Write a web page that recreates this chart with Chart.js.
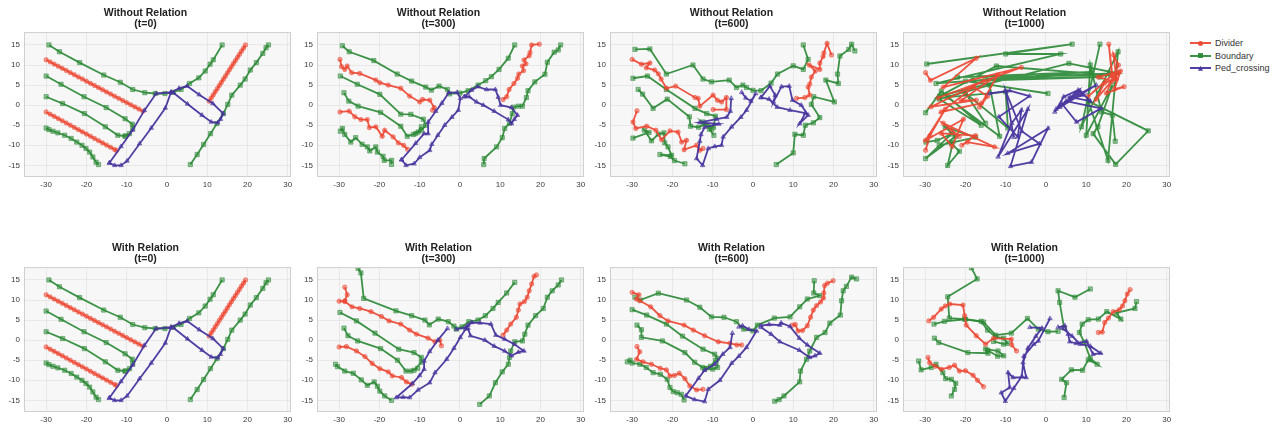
<!DOCTYPE html>
<html>
<head>
<meta charset="utf-8">
<script src="https://cdn.jsdelivr.net/npm/chart.js@4.4.1/dist/chart.umd.min.js"></script>
<style>
    body { margin: 0; background: #fff; width: 1281px; height: 428px; position: relative; overflow: hidden; font-family: "Liberation Sans", Arial, sans-serif; }
    canvas.panel { position: absolute; }
    #legend { position: absolute; left: 1190px; top: 37px; font-size: 9px; color: #333; }
    #legend .item { height: 12.5px; line-height: 12.5px; display: flex; align-items: center; white-space: nowrap; }
    #legend .key { position: relative; width: 21px; height: 12px; margin-right: 4px; }
    #legend .key .bar { position: absolute; left: 0; right: 0; top: 5px; height: 2px; }
    #legend .key .mark { position: absolute; left: 8px; top: 3.5px; width: 5px; height: 5px; }
</style>
</head>
<body>
<div id="legend"></div>
<script>
// axis ticks
const xTicks = [-30, -20, -10, 0, 10, 20, 30];
const yTicks = [-15, -10, -5, 0, 5, 10, 15];
const classNames = ['Divider', 'Boundary', 'Ped_crossing'];

// t=0 (same map for both rows)
const t0Divider = [
    [[-30, 11.3], [-29, 10.77], [-28, 10.23], [-27, 9.7], [-26, 9.17], [-25, 8.63], [-24, 8.1], [-23, 7.57], [-22, 7.03], [-21, 6.5], [-20, 5.97], [-19, 5.43], [-18, 4.9], [-17, 4.37], [-16, 3.83], [-15, 3.3], [-14, 2.77], [-13, 2.23], [-12, 1.7], [-11, 1.17], [-10, 0.63], [-9, 0.1], [-8, -0.43], [-7, -0.97], [-6, -1.5]],
    [[-30, -1.7], [-29, -2.25], [-28, -2.8], [-27, -3.35], [-26, -3.9], [-25, -4.45], [-24, -5.0], [-23, -5.55], [-22, -6.1], [-21, -6.65], [-20, -7.2], [-19, -7.75], [-18, -8.3], [-17, -8.85], [-16, -9.4], [-15, -9.95], [-14, -10.5], [-13, -11.05], [-12.5, -11.3]],
    [[10.5, 1.0], [11, 1.8], [11.5, 2.55], [12, 3.35], [12.5, 4.1], [13, 4.9], [13.5, 5.65], [14, 6.45], [14.5, 7.2], [15, 8.0], [15.5, 8.8], [16, 9.55], [16.5, 10.35], [17, 11.1], [17.5, 11.9], [18, 12.65], [18.5, 13.45], [19, 14.2], [19.5, 15]]
];
const t0Boundary = [
    [[-29.3, 15], [-26.7, 13.3], [-21.7, 10.6], [-15.7, 7.5], [-11.6, 5.7], [-8.5, 3.9], [-5.5, 3.1], [-2.9, 2.9], [-0.5, 2.9], [1.5, 3.2], [3.5, 3.9], [5.6, 5.4], [7.9, 6.8], [9.5, 8.5], [10.7, 10.2], [11.5, 11.3], [13.7, 15]],
    [[-30, 7.25], [-26.3, 5.2], [-20.6, 2.1], [-15.1, -0.6], [-10.4, -3.4], [-8.6, -4.75], [-8.5, -5.8], [-9.3, -7.1], [-10.4, -7.7]],
    [[-30, 2.1], [-25.9, 0.4], [-20.5, -2.1], [-15.3, -5.4], [-12.2, -7.5], [-10.4, -7.7]],
    [[-30, -5.7], [-29.3, -6.1], [-28.3, -6.5], [-27.1, -6.9], [-25.4, -7.5], [-23.8, -8.3], [-22.4, -9.2], [-21.1, -10], [-20.1, -10.8], [-19.2, -11.7], [-18.4, -12.9], [-17.6, -14.2], [-17, -14.8]],
    [[5.8, -14.8], [7.5, -12.3], [9.1, -9.8], [10.8, -7.1], [12.4, -4.6], [14, -2.1], [15.1, 0.2], [16.1, 2.5], [18.2, 5], [19.4, 6.5], [20.7, 8.75], [22.2, 10.6], [23.8, 12.9], [24.6, 14.3], [25.2, 15]]
];
const t0Ped = [
    [[-14.3, -14.4], [-13, -15], [-11.4, -15], [-9.9, -13.9], [-6.8, -9.6], [-3.9, -5.7], [-0.4, -0.7], [1, 3.2], [-2.7, 2.9], [-5.6, -1.3], [-8.5, -6.2], [-11.4, -10.3], [-14.3, -14.4]],
    [[1, 3.2], [3, 4.2], [5, 4.75], [8, 2.6], [11.4, 0.4], [14, -2.1], [13.3, -3.5], [12.6, -4.4], [11, -4.2], [8.7, -2.5], [5.1, 0.3], [1.6, 3.1]]
];

// Without Relation, t=300
const woT300Divider = [
    [[-29.8, 11.4], [-29.4, 9.6], [-28.6, 8.9], [-28, 9.75], [-26.9, 8.1], [-24.9, 7.9], [-20.9, 6.25], [-19.9, 5.6], [-17.8, 5], [-14.7, 4.2], [-12.5, 2.25], [-10, 0.8], [-9.3, 1.4], [-7.5, 1.25], [-6.4, -0.6], [-6.8, -1.25]],
    [[-29.8, -1.7], [-27.5, -1.5], [-26.1, -2.9], [-24.6, -3.6], [-23, -3.6], [-22.5, -5.6], [-20.9, -5.4], [-19.3, -7.75], [-18.7, -6.25], [-16.6, -7.9], [-15.3, -9.4], [-14, -10], [-13, -11]],
    [[10.7, 1.4], [11.6, 2.1], [12.2, 3.9], [13.4, 5.4], [14.3, 6.7], [14.6, 7.75], [15.8, 8.6], [15.5, 9.75], [16.4, 10.3], [15.9, 11.25], [17.2, 12.3], [17.4, 13.1], [17.8, 15], [19.7, 15.2]]
];
const woT300Boundary = [
    [[-29.2, 14.8], [-27.5, 13.3], [-21.4, 11.1], [-15.6, 7.75], [-12, 6], [-8.5, 4.5], [-7.1, 3.75], [-5.2, 4.75], [-3.1, 3.9], [-2.6, 2.8], [0, 3], [2, 3.6], [4.5, 5], [6.4, 6.1], [7.8, 7.1], [9.7, 8.9], [12, 11.7], [13.6, 15]],
    [[-29.7, 7.25], [-25.5, 5.2], [-19.9, 2.7], [-14.7, -2.25], [-12.2, -2.3], [-9.1, -3.5], [-8.5, -5], [-9.6, -6.3], [-11, -7.1]],
    [[-28.8, 3.1], [-27.6, 1], [-25.3, -0.25], [-19.7, -1.8], [-14.7, -5.25], [-13.1, -7.75], [-11.6, -7.3], [-10.4, -6.7], [-9.6, -5.4]],
    [[-29.7, -6.5], [-29.2, -5.8], [-28.6, -7.3], [-27.1, -9.2], [-25.9, -8.1], [-24.3, -9.75], [-23, -10.4], [-22.4, -11.4], [-20.9, -10.4], [-20.5, -11.7], [-19.1, -12.75], [-18.8, -13.75], [-17, -13.75], [-17, -14.75]],
    [[5.9, -14.8], [6, -13.3], [9.1, -10.4], [10.5, -8.1], [11.1, -5.8], [12.3, -4.5], [13, -2.1], [13.3, -0.5], [14.5, -0.25], [15.5, -0.25], [16.5, 1.9], [16.9, 3.6], [18.6, 5.8], [21.1, 7.7], [21.7, 10.7], [23.4, 13.2], [24.4, 13.75], [25, 15]]
];
const woT300Ped = [
    [[-14.5, -13.6], [-13.4, -15], [-11.4, -14.6], [-10, -13], [-7.5, -11.25], [-7, -9.75], [-5.5, -7.5], [-3.8, -5], [-2, -3], [-0.4, -1.25], [0.1, 1.7], [-0.7, 3.2], [-2.8, 3.1], [-4.5, 0.5], [-6, -1.5], [-7.9, -4.2], [-7.9, -7.1], [-8.9, -7.1], [-11, -9.5], [-14.5, -13.6]],
    [[1.1, 2.1], [2.9, 3.75], [4.4, 4.6], [6.6, 3.9], [8.8, 3.9], [9.5, 2], [10.1, 0], [12.8, -0.6], [14.3, -2.5], [13.5, -3.5], [12.8, -4.6], [12, -3.6], [8.5, -1.5], [5.8, 0], [4.1, 0.8], [2.3, 2.1], [1.1, 2.1]]
];

// Without Relation, t=600
const woT600Divider = [
    [[-30, 11.4], [-27.7, 10.2], [-25.6, 10.5], [-26.5, 9.3], [-24.4, 8.75], [-23.5, 7.8], [-22.8, 6.5], [-21.5, 4.2], [-19.2, 4.75], [-14.4, 1.9], [-13.6, 1.7], [-13.2, -0.25], [-9.9, 2.5], [-8.8, 1.2], [-7.8, 0.8], [-6.6, 1.9], [-6.6, -1.1], [-9.9, -1.1]],
    [[-28.8, -1.4], [-29.8, -4.2], [-29.1, -5.8], [-26.4, -5.25], [-24.1, -6.25], [-22.7, -8.6], [-20.6, -6.4], [-18.6, -6.7], [-17.7, -9.2], [-16.5, -8.75], [-17.1, -11.1], [-14, -10], [-13.2, -11.25], [-12.4, -10.8]],
    [[10.8, 1.7], [12.9, 1.9], [14.1, 2.5], [13.7, 4.5], [14.1, 5.25], [14.5, 7], [15.5, 8.5], [14, 10], [16.6, 8.9], [16.6, 10.5], [17.4, 12.1], [17.6, 13], [18.4, 15.4], [19.5, 12.5]]
];
const woT600Boundary = [
    [[-29.3, 13.9], [-25.6, 14], [-21.5, 7.75], [-14.9, 10], [-12.4, 6.5], [-10.3, 5.8], [-5.9, 6.25], [-4.1, 4.4], [-2.5, 5], [-1.6, 4.4], [0, 3.7], [2, 3.6], [4.5, 5.5], [6.1, 7.75], [10, 9.8], [12.5, 8.9], [13.7, 11.4], [12.5, 15]],
    [[-29.8, 6.7], [-26.2, 7.25], [-21.5, 3.9], [-14.4, -0.8], [-11.5, -2.1], [-9.3, -2.75], [-9.8, -5.5], [-12.4, -4.2], [-10.2, -6]],
    [[-28.5, 3.9], [-27.4, 2.75], [-24.8, -0.8], [-21.3, 1.5], [-15.8, -2.9], [-15.5, -5.25], [-13.5, -5.5], [-12, -4.75], [-10.8, -6], [-9.7, -7.5]],
    [[-29.8, -8.2], [-25.8, -6.8], [-27, -6.2], [-25.2, -8.9], [-23.5, -7.2], [-22.1, -6.9], [-21.9, -9.4], [-21.1, -10.4], [-20.2, -12.5], [-23.1, -12.3], [-20.5, -12.8], [-19.5, -13.8], [-16.9, -14.6]],
    [[5.8, -14.8], [10, -11.9], [10.4, -7.25], [12.5, -7.5], [13, -5], [15, -4.4], [16.6, -3.1], [14.5, 0.2], [15.1, 2.1], [20.2, 0.8], [18.1, 6.25], [21.2, 5.4], [21, 7.75], [21.6, 12.25], [23.8, 13.9], [24.5, 15.2], [25.3, 13.5]]
];
const woT600Ped = [
    [[-5.4, 1.7], [-5.6, -1.5], [-6.5, -3], [-9, -3.5], [-13.2, -4.3], [-8.5, -4.7], [-12, -5.5], [-12.9, -7.3], [-13.2, -9], [-14, -13.3], [-12.5, -15], [-11.1, -10.8], [-9.5, -10.3], [-7.8, -10], [-7.4, -7.9], [-5.3, -5.4], [-3, -3], [-1.6, -1.25], [0.7, 2.9], [-0.5, 1], [-1.8, 1.8], [-2.8, 3.2]],
    [[2, 1.9], [4.2, 4.75], [5.5, 2.5], [5.1, 0.8], [7.1, 4.6], [9, 4.75], [9.8, 1.25], [12, 0], [13.7, -2.5], [11.6, -4.6], [13, -2], [9.2, -1.25], [6, -0.5], [4, 1.5], [2, 1.9]]
];

// Without Relation, t=1000
const woT1000Divider = [
    [[-29.9, 8.1], [-28.7, 6.2], [-17.3, 11.7], [-25.5, 4.5], [-6.1, 9.4], [-26.8, 1.8], [-15.5, 6], [-28.5, -0.4], [-17.3, 1.25], [-21, 1.2], [-12, 7.5], [-16.5, -0.5], [-14.5, 2.2], [-18, 4.5], [-26, -1.7], [-16, 0.5]],
    [[-29.9, -11.25], [-28.8, -7.6], [-25, -1], [-29.9, -8.75], [-20.5, -3.5], [-23.3, -10.3], [-26, -7], [-17.5, -7.6], [-20.9, -10], [-19.5, -9.2], [-12.8, -10.4], [-25.5, -4.5], [-21.5, -7.8], [-23.5, -6.2]],
    [[10.4, 2.1], [16.5, 7.5], [15.6, 15.2], [16.5, 6], [13, 7], [18.5, 8.5], [17, 4], [19.4, 4.6], [15, 3], [18, 10], [16.8, 12.5], [17.5, 6.5], [14.5, 5.5], [12.5, 1.5], [18, 8]]
];
const woT1000Boundary = [
    [[-29.6, 10.25], [6.5, 15.2], [-10, 12.75], [3.65, 12.75], [-27.3, 5.4], [11.3, 8.3], [-22, 7], [16, 7.5], [-12.3, 9.75], [-26.4, 2.25], [5.7, 10.4], [17.5, 8], [-15, 6.5], [13.5, 7], [-20, 6], [0.5, 2.9]],
    [[-29.9, -1.9], [-26, 3.5], [-16.1, -5], [-26.5, 1.5], [-14, 5], [-11.5, -7.75], [-24.5, 2], [-10, 3.3], [-9.45, -5.7], [-20, 3], [-15, -4.5]],
    [[-29.8, -9.2], [-27, -8.8], [-23.5, -7.2], [-29.9, -13.3], [-22.5, -7.8], [-25, -5.5], [-17.5, -8], [-26.5, -10], [-23.1, -9.2], [-24.4, -15], [-21.5, -11.5], [-23.5, -9.5]],
    [[13.4, 15.2], [8.8, -5.4], [17.9, 13.3], [15.4, -13.75], [10.5, 1], [25.4, -6.4], [17.3, -14.75], [11.7, -7.1], [12.9, -5.4], [16.5, 5], [10, -7.5], [11, 10], [13.8, -1.7], [16.5, -2.5], [17.2, -9]]
];
const woT1000Ped = [
    [[-14, 2.9], [-9, 3.6], [-4.1, 2.25], [-11.7, -2.9], [-7, -7.9], [-6.1, -1.25], [-8.5, -4.5], [-11.9, -12.9], [-4.5, -1], [-8.8, -15.25], [-3.6, -14.2], [0.5, -5.8], [-9.5, -12], [-1.6, -9.6], [-6, -6.5], [-10, 3.5], [-8, -8]],
    [[2.2, -1.7], [4.4, 2.1], [8, 3.75], [3.5, -0.5], [12.5, 5], [5, 1], [13.7, -0.8], [7.6, -4.2], [4, 0.3], [9, 2.5], [6, 2], [11, 1], [8.5, 3.5], [2.5, -1]]
];

// With Relation, t=300
const wT300Divider = [
    [[-28.6, 13.2], [-28, 11.3], [-28.6, 9.8], [-30, 9.7], [-28.6, 9.6], [-26.8, 8.3], [-24.9, 7.9], [-22.1, 7.1], [-19.5, 5.9], [-17.6, 4.8], [-14.7, 4], [-12.5, 2.5], [-10.8, 1.5], [-7.9, 0.5], [-6.2, -0.4], [-5, 0], [-4.6, -1.4]],
    [[-30, -1.7], [-28.2, -1.6], [-25.7, -2.7], [-23.6, -4.1], [-21.8, -5.8], [-19.9, -7.1], [-17.8, -7.9], [-16.8, -8.9], [-14.5, -9.3], [-13.3, -10.4], [-12, -11]],
    [[10.7, 1.25], [11.6, 2.5], [12.6, 4], [14, 5.7], [14.5, 7.5], [14.9, 9], [16, 9.6], [16.7, 10.7], [17.2, 12.3], [17.8, 14], [18.4, 15.9], [19, 16.25]]
];
const wT300Boundary = [
    [[-25.3, 17.9], [-24.6, 16.75], [-23.9, 10.4], [-15.9, 7.3], [-12, 6.1], [-8.7, 5], [-7.6, 3.8], [-5.4, 5.25], [-2.9, 4.6], [-1.5, 3.5], [-0.9, 2.75], [0.5, 3.3], [2.2, 4.6], [4.5, 5], [6.3, 6.1], [8.2, 7.9], [9.5, 9.4], [11.6, 11.75], [13.6, 14.4]],
    [[-29.8, 6.9], [-25.7, 4.8], [-21.1, 1.75], [-15.2, -2.25], [-11.4, -3.1], [-9.6, -4.3], [-9.6, -5.5], [-11.4, -7.5]],
    [[-28.8, 3], [-27.8, 1.1], [-25.4, -0.2], [-19.7, -2.1], [-15.5, -5], [-13.4, -7.7], [-12.2, -7.7], [-10.5, -7]],
    [[-30.9, -6], [-30.4, -6.6], [-28.6, -7.7], [-26.5, -8.25], [-24.5, -9.9], [-23, -11.25], [-21.3, -10.4], [-20.5, -11.5], [-19.9, -12.7], [-18.7, -13.9], [-17, -15]],
    [[4.9, -16], [7.3, -13.9], [8.8, -10.6], [10.5, -7.9], [12, -6], [12.3, -4.3], [12.6, -2.7], [13.6, -0.4], [15.5, -0.2], [16.1, 1.5], [16.9, 3.75], [18.8, 6.1], [20.7, 7.9], [21.7, 10.7], [22.9, 12.3], [24.4, 13.75], [25.2, 15]]
];
const wT300Ped = [
    [[-3.1, 2.9], [-5.5, 0], [-7.5, -2.8], [-8.9, -5.2], [-8.9, -7.25], [-10, -8.8], [-11.8, -10.8], [-15.8, -14.3], [-14.1, -14.2], [-12.5, -14.3], [-10.4, -12.4], [-7.5, -10.6], [-6.2, -8.1], [-3.3, -4.75], [-1.5, -2], [0.1, 0.7], [1.4, 2.75], [2, 3.75]],
    [[-0.9, 2.75], [1.5, 3.2], [2.9, 4.4], [5, 4.3], [7.7, 4], [8.9, 1.25], [11.1, 0.25], [13.5, -1], [15.9, -2.7], [14.5, -3], [12.8, -3.9], [11.1, -2.7], [8.5, -1.5], [6.2, 0], [2.6, 1.1], [2, 3]]
];

// With Relation, t=600
const wT600Divider = [
    [[-30, 11.9], [-28.3, 11.3], [-28.9, 10.2], [-28.1, 9.8], [-25.4, 8.3], [-23.1, 6.1], [-21.1, 4.8], [-17.1, 3.75], [-14.8, 2.5], [-12, 1.1], [-8.6, -0.4], [-5.7, -0.8], [-4, -1.2], [-2.8, -1.2]],
    [[-28.8, -1.6], [-28.1, -2.9], [-28.9, -4.75], [-27.3, -5.4], [-25.2, -6], [-23, -7], [-21.5, -7.4], [-20.6, -8.9], [-19.5, -8.8], [-18.3, -8.25], [-16.9, -9.6], [-15.7, -11.4], [-14, -12.4], [-12.4, -12.25]],
    [[9.8, 3.75], [10.5, 3.9], [11.2, 2.3], [12.3, 2.4], [13.5, 3.6], [14.3, 5.7], [15, 7.5], [15.8, 8.6], [16.8, 9.5], [17.5, 10.5], [17.6, 11.75], [17.8, 13.6], [18.5, 14.2], [19.9, 14.8]]
];
const wT600Boundary = [
    [[-29.3, 10.7], [-28, 10], [-23.5, 11.7], [-16.5, 10], [-13.2, 8.2], [-10.3, 5.8], [-7.2, 5.7], [-4.1, 4.6], [-2.3, 2.75], [0, 2.3], [1.1, 3.75], [5.3, 5.5], [9.2, 5.8], [11.6, 8.3], [13.5, 10.25], [16.6, 11.1], [15.1, 11.75], [15.2, 14.8]],
    [[-30, 7.6], [-26.4, 6.25], [-21.5, 4], [-17.5, 1], [-12.4, -2.25], [-9.5, -3.5], [-8.8, -4.5], [-8.8, -6.8], [-10, -7.2], [-12, -7.25]],
    [[-28.8, 3.75], [-27.7, 2.6], [-27.7, 0.7], [-22.5, -0.2], [-16.9, -3.1], [-14.5, -5.5], [-12.5, -6.8], [-10.5, -6.5], [-9.3, -5]],
    [[-31.2, -5.4], [-30.5, -5], [-30, -5.7], [-28.1, -6], [-26.5, -6.8], [-24.8, -8.1], [-23, -8.5], [-21.3, -9.75], [-20.6, -11.8], [-19.8, -12.8], [-18.8, -13.1], [-17.8, -13.5], [-17.1, -14.9]],
    [[5.4, -15.2], [6.5, -14.8], [7.7, -13.9], [11.6, -10.4], [11.8, -7.7], [13.3, -4.75], [14.1, -2.7], [15.8, 0.7], [17.9, 1.9], [19.1, 4.25], [21.7, 6.25], [22, 9.8], [22.4, 12.3], [23.2, 13.4], [24.5, 15.7], [25.7, 15.25]]
];
const wT600Ped = [
    [[-5.1, 1.75], [-5.7, -1.8], [-7.5, -3.5], [-9.5, -6], [-12, -7.5], [-13.5, -9.5], [-16.7, -13.9], [-14.5, -14.8], [-12, -15.3], [-11.1, -12.25], [-8.2, -10], [-5.3, -5.75], [-3.5, -4], [-1.6, -1.8], [0.9, 2.3], [-1, 2.7], [-2.6, 3.6], [-3.5, 3.3]],
    [[2, 3.6], [4, 3.9], [6.7, 3.75], [7, 4.3], [9.2, 3.4], [11.5, 0.5], [13.5, -1.2], [16.6, -3.25], [15.4, -3.9], [14.1, -4.3], [11.5, -2.5], [6.7, -0.4], [4.5, 1.5], [2, 3.2]]
];

// With Relation, t=1000
const wT1000Divider = [
    [[-29.1, 4.8], [-27.9, 5.7], [-26, 7.75], [-25, 8.5], [-23.9, 9], [-20.6, 8.75], [-20.2, 6.1], [-19.8, 3.75], [-17.3, 1.1], [-15, -1], [-13, 0.5], [-8.6, 0.25], [-8.5, -1.2], [-7.3, -2.7]],
    [[-29.3, -4.3], [-28.9, -5.6], [-27.5, -6.5], [-26, -7.25], [-24, -6.8], [-22.7, -6.25], [-21.5, -7.7], [-20, -7.6], [-18.1, -8.75], [-17, -10], [-15.5, -11.6]],
    [[13, 1.9], [14, 2], [14.6, 4.4], [15.5, 5.5], [16.7, 7.1], [18.2, 7.6], [19, 8.5], [19.6, 9.8], [20.2, 11.5], [20.9, 12.6]]
];
const wT1000Boundary = [
    [[-18.5, 18], [-17.1, 15.25], [-24.4, 10.8], [-24, 5.5], [-20.2, 5.25], [-15.5, 4.5], [-12.5, 1.25], [-8.6, 1.75], [-4.6, 5.4], [-1.9, 2.75], [0.5, 2.1], [3, 2.2]],
    [[-27.8, 4], [-25.2, 4.7], [-20, 5.2], [-16.1, 4.7], [-14.5, 2.5], [-12.5, 0.8], [-10.5, 0.5], [-9.5, -0.8], [-10.5, -1], [-13, -0.3]],
    [[-27.7, 0.5], [-26.6, -0.6], [-19.4, -3.1], [-14.4, -3.25], [-15, -2.2], [-11.9, -2.7], [-10.5, -3.9], [-12, -4], [-14.5, -2.5]],
    [[-31.6, -5.2], [-31, -7.4], [-28.5, -6.8], [-27.3, -6], [-25.6, -8.1], [-24.9, -9.6], [-23.5, -9.75], [-22.4, -10.75], [-22.7, -12.25], [-23.5, -13.9]],
    [[4.5, -14.3], [5.1, -10.6], [3.9, -9.75], [6.3, -7.4], [9.1, -7.5], [10.5, -4.9], [12.7, -6], [11, -4.5], [9.5, -0.5], [8.3, 1.9], [9, 4], [10.5, 5.1], [13, 5.25], [15.1, 7.1], [18.6, 5.25], [17.5, 6.8], [22.1, 7.9], [22.5, 9.6]],
    [[11, 12.75], [7.2, 10.7], [3, 12.3], [3.4, 9.4], [4.5, 3]]
];
const wT1000Ped = [
    [[-4, 3.2], [-1, 3], [-2.5, 1], [-4.5, -2], [-5.7, -5.6], [-4.9, -9.3], [-8.2, -9.3], [-9.4, -8.1], [-9, -11.8], [-11.1, -13.1], [-10.1, -15.2], [-8, -12], [-6, -9], [-5.5, -4], [-3, -1], [-1.9, -0.2], [1, 5.4]],
    [[3, 3.2], [4.7, 3.6], [5.5, 1.5], [5.9, -0.4], [7.5, -0.8], [10.1, -0.3], [11.7, -3.5], [13.6, -3.25], [11, -1.5], [8.5, -1], [6.5, 1], [4, 3]]
];

const panels = [
    { title: ['Without Relation', '(t=0)'], divider: t0Divider, boundary: t0Boundary, ped: t0Ped },
    { title: ['Without Relation', '(t=300)'], divider: woT300Divider, boundary: woT300Boundary, ped: woT300Ped },
    { title: ['Without Relation', '(t=600)'], divider: woT600Divider, boundary: woT600Boundary, ped: woT600Ped },
    { title: ['Without Relation', '(t=1000)'], divider: woT1000Divider, boundary: woT1000Boundary, ped: woT1000Ped },
    { title: ['With Relation', '(t=0)'], divider: t0Divider, boundary: t0Boundary, ped: t0Ped },
    { title: ['With Relation', '(t=300)'], divider: wT300Divider, boundary: wT300Boundary, ped: wT300Ped },
    { title: ['With Relation', '(t=600)'], divider: wT600Divider, boundary: wT600Boundary, ped: wT600Ped },
    { title: ['With Relation', '(t=1000)'], divider: wT1000Divider, boundary: wT1000Boundary, ped: wT1000Ped }
];

const styles = {
    Divider: { line: 'rgba(236,70,50,0.92)', fill: 'rgba(236,70,50,0.5)', point: 'circle', radius: 2.2, order: 1 },
    Boundary: { line: 'rgba(45,138,55,0.92)', fill: 'rgba(45,138,55,0.5)', point: 'rect', radius: 3, order: 2 },
    Ped_crossing: { line: 'rgba(72,52,158,0.95)', fill: 'rgba(72,52,158,0.5)', point: 'triangle', radius: 2.6, order: 0 }
};

Chart.defaults.font.family = "'Liberation Sans', Arial, sans-serif";

// background + frame of every plot area
const plotFrame = {
    id: 'plotFrame',
    beforeDraw(chart) {
        const { ctx, chartArea: a } = chart;
        ctx.save();
        ctx.fillStyle = '#f7f7f7';
        ctx.fillRect(a.left, a.top, a.width, a.height);
        ctx.restore();
    },
    afterDraw(chart) {
        const { ctx, chartArea: a } = chart;
        ctx.save();
        ctx.strokeStyle = '#cfcfcf';
        ctx.lineWidth = 1;
        ctx.strokeRect(a.left + 0.5, a.top + 0.5, a.width - 1, a.height - 1);
        ctx.restore();
    }
};

function lineDataset(points, style) {
    return {
        data: points.map(([x, y]) => ({ x, y })),
        showLine: true,
        borderColor: style.line,
        backgroundColor: style.fill,
        borderWidth: 1.8,
        pointStyle: style.point,
        pointRadius: style.radius,
        pointBorderWidth: 0.6,
        pointBorderColor: style.line,
        pointBackgroundColor: style.fill,
        tension: 0,
        order: style.order
    };
}

function axis(min, max, tickValues, fit) {
    return {
        type: 'linear',
        min,
        max,
        afterBuildTicks: s => { s.ticks = tickValues.map(v => ({ value: v })); },
        afterFit: fit,
        grid: { color: '#e3e3e3', lineWidth: 0.8, drawTicks: false },
        border: { display: false },
        ticks: { color: '#3a3a3a', font: { size: 8 }, autoSkip: false, maxRotation: 0 }
    };
}

panels.forEach((panel, i) => {
    const canvas = document.createElement('canvas');
    canvas.className = 'panel';
    canvas.width = 301;
    canvas.height = 195;
    canvas.style.left = (293 * (i % 4)) + 'px';
    canvas.style.top = (i < 4 ? 0 : 235) + 'px';
    document.body.appendChild(canvas);

    const datasets = [
        ...panel.divider.map(p => lineDataset(p, styles.Divider)),
        ...panel.boundary.map(p => lineDataset(p, styles.Boundary)),
        ...panel.ped.map(p => lineDataset(p, styles.Ped_crossing))
    ];

    const xAxis = axis(-35.5, 30.8, xTicks, s => { s.height = 18; });
    xAxis.ticks.padding = 3;
    const yAxis = axis(-17.9, 18.2, yTicks, s => { s.width = 24; });
    yAxis.ticks.padding = 4;

    new Chart(canvas.getContext('2d'), {
        type: 'scatter',
        data: { datasets },
        options: {
            responsive: false,
            animation: false,
            devicePixelRatio: 1,
            layout: { padding: { left: 0, right: 10, top: 0, bottom: 0 } },
            plugins: {
                legend: { display: false },
                tooltip: { enabled: false },
                title: {
                    display: true,
                    text: panel.title,
                    color: '#222',
                    font: { size: 10.5, weight: 'bold', lineHeight: 1.1 },
                    padding: { top: 7, bottom: 2 }
                }
            },
            scales: { x: xAxis, y: yAxis }
        },
        plugins: [plotFrame]
    });
});

// legend
const legend = document.getElementById('legend');
classNames.forEach(name => {
    const st = styles[name];
    const item = document.createElement('div');
    item.className = 'item';
    const key = document.createElement('span');
    key.className = 'key';
    const bar = document.createElement('span');
    bar.className = 'bar';
    bar.style.background = st.line;
    const mark = document.createElement('span');
    mark.className = 'mark';
    mark.style.background = st.line;
    if (st.point === 'circle') mark.style.borderRadius = '50%';
    if (st.point === 'triangle') mark.style.clipPath = 'polygon(50% 0, 100% 100%, 0 100%)';
    key.appendChild(bar);
    key.appendChild(mark);
    item.appendChild(key);
    item.appendChild(document.createTextNode(name));
    legend.appendChild(item);
});
</script>
</body>
</html>
